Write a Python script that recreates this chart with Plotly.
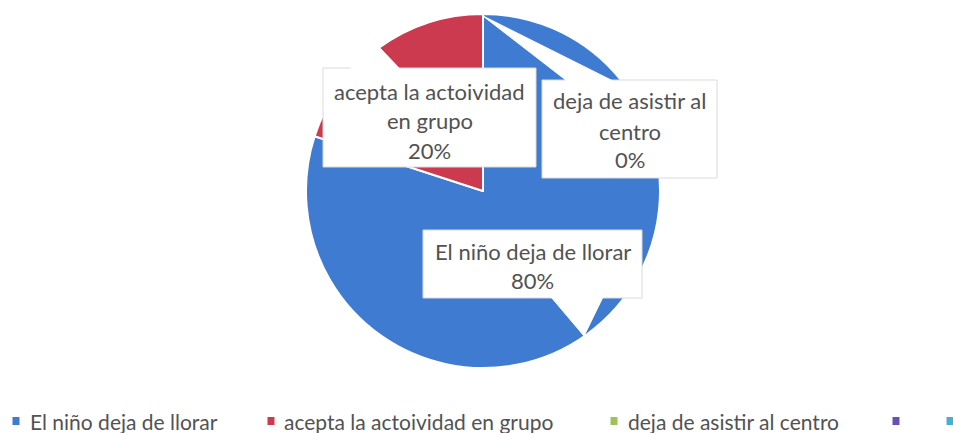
import plotly.graph_objects as go

# ---- data ----
labels = ["El niño deja de llorar", "acepta la actoividad en grupo", "deja de asistir al centro"]
values = [80, 20, 0]
slice_colors = ["#3f7bd0", "#cc3a4f", "#9dc25a"]
legend_labels = labels + ["", ""]
legend_colors = slice_colors + ["#6a50b5", "#4aaed2"]
callout_lines = [["El niño deja de llorar"], ["acepta la actoividad", "en grupo"], ["deja de asistir al", "centro"]]

# ---- layout helpers (pixel -> paper) ----
W, H = 953, 433
def px(x):
    return x / W
def py(y):
    return 1 - y / H

FONT = "Lato"
TEXT_COLOR = "#525252"

fig = go.Figure()
fig.add_trace(go.Pie(
    labels=labels, values=values, sort=False, direction="clockwise", rotation=0,
    marker=dict(colors=slice_colors, line=dict(color="white", width=2)),
    textinfo="none", hoverinfo="label+percent", showlegend=False,
    domain=dict(x=[px(306), px(660)], y=[py(368), py(14)]),
))

total = sum(values)
pcts = ["{}%".format(round(v / total * 100)) for v in values]

# callout geometry per slice index: box (x0,y0,x1,y1), line y centres, pointer triangle
callouts = {
    0: dict(box=(423, 230, 642, 298), ys=[251, 280], ptr=[(551, 297), (603, 297), (584, 336)]),
    1: dict(box=(323, 68, 536, 167), ys=[91, 121, 150], ptr=[(350, 69), (379, 47), (400, 69)]),
    2: dict(box=(542, 80, 717, 178), ys=[101, 131, 159], ptr=[(483, 16), (567, 81), (613, 81)]),
}

shapes = []
annotations = []
for i, c in callouts.items():
    x0, y0, x1, y1 = c["box"]
    shapes.append(dict(type="rect", xref="paper", yref="paper",
                       x0=px(x0), x1=px(x1), y0=py(y1), y1=py(y0),
                       fillcolor="white", line=dict(color="#dadada", width=1), layer="above"))
    p = c["ptr"]
    path = "M {} {} L {} {} L {} {} Z".format(px(p[0][0]), py(p[0][1]), px(p[1][0]), py(p[1][1]), px(p[2][0]), py(p[2][1]))
    shapes.append(dict(type="path", xref="paper", yref="paper", path=path,
                       fillcolor="white", line=dict(color="white", width=1), layer="above"))
    lines = callout_lines[i] + [pcts[i]]
    xc = (x0 + x1) / 2
    for txt, yy in zip(lines, c["ys"]):
        annotations.append(dict(text=txt, x=px(xc), y=py(yy), xref="paper", yref="paper",
                                xanchor="center", yanchor="middle", showarrow=False,
                                font=dict(family=FONT, size=22, color=TEXT_COLOR)))

# manual legend
legend_sq_x = [16, 271, 614, 896, 950]
legend_txt_x = [28, 282, 626, 909, 963]
LY = 421
for lab, col, sx, tx in zip(legend_labels, legend_colors, legend_sq_x, legend_txt_x):
    shapes.append(dict(type="rect", xref="paper", yref="paper",
                       x0=px(sx - 3.5), x1=px(sx + 3.5), y0=py(LY + 4), y1=py(LY - 4),
                       fillcolor=col, line=dict(width=0)))
    if lab:
        annotations.append(dict(text=lab, x=px(tx), y=py(LY), xref="paper", yref="paper",
                                xanchor="left", yanchor="middle", showarrow=False,
                                font=dict(family=FONT, size=21, color=TEXT_COLOR)))

fig.update_layout(
    width=W, height=H, margin=dict(l=0, r=0, t=0, b=0),
    paper_bgcolor="white", plot_bgcolor="white",
    shapes=shapes, annotations=annotations, showlegend=False,
)

fig.write_html("out.html")
